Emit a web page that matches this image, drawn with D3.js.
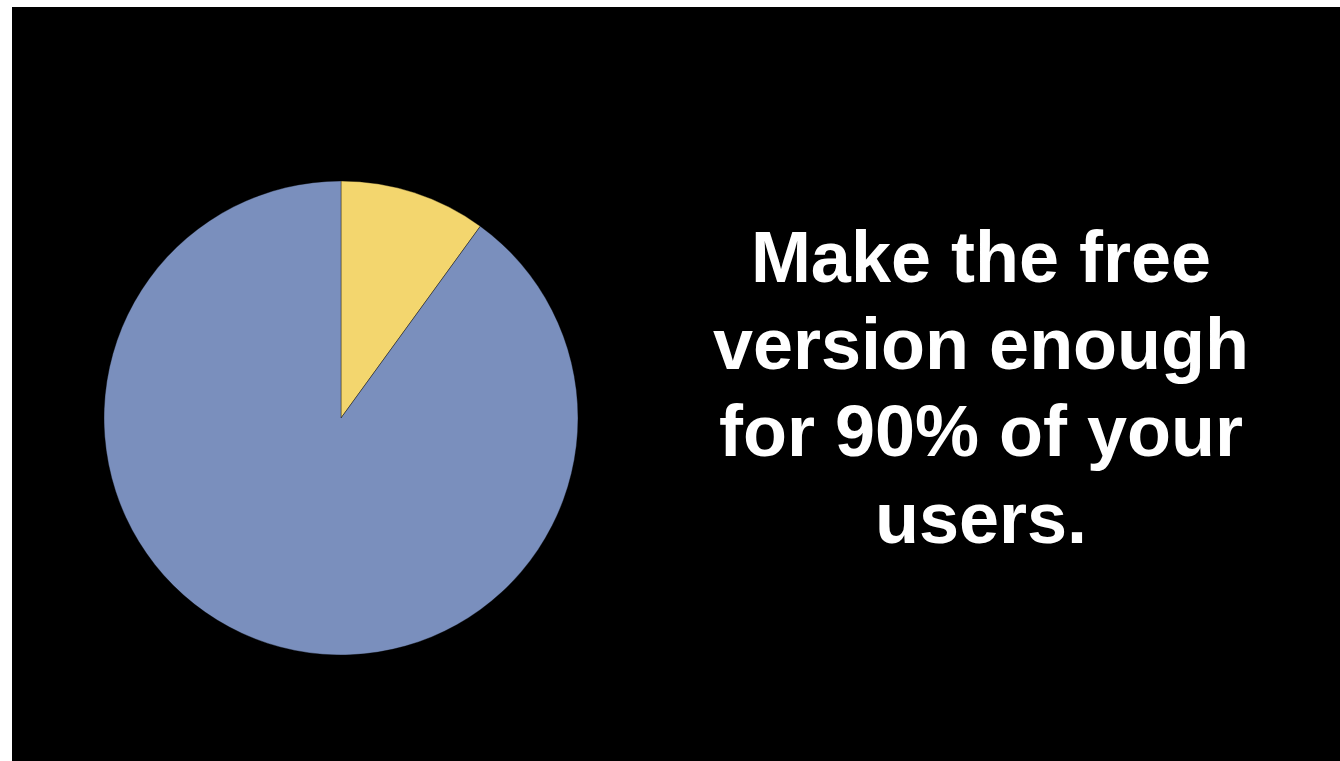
<!DOCTYPE html>
<html>
<head>
<meta charset="utf-8">
<script src="https://cdn.jsdelivr.net/npm/d3@7"></script>
<style>
  html, body { margin: 0; padding: 0; background: #fff; }
  svg { display: block; }
</style>
</head>
<body>
<svg id="slide" width="1340" height="761"></svg>
<script>
const segments = ["Paying users", "Free users"];
const shares = [10, 90];
const sliceColors = ["#f3d66e", "#7a8fbd"];
const lines = ["Make the free", "version enough", "for 90% of your", "users."];

const svg = d3.select("#slide"),
  width = +svg.attr("width"),
  height = +svg.attr("height");

// black slide area, white strip top and left
svg.append("rect")
  .attr("x", 12)
  .attr("y", 7)
  .attr("width", width - 12)
  .attr("height", height - 7)
  .attr("fill", "#000");

const cx = 341, cy = 418, r = 237;

const pie = d3.pie().sort(null).value(function (d) { return d; });
const arc = d3.arc().innerRadius(0).outerRadius(r);

const color = d3.scaleOrdinal().domain(segments).range(sliceColors);

const g = svg.append("g").attr("transform", `translate(${cx},${cy})`);

g.selectAll("path")
  .data(pie(shares))
  .join("path")
  .attr("d", arc)
  .attr("fill", function (d, i) { return color(segments[i]); })
  .attr("stroke", "rgba(0,0,0,0.35)")
  .attr("stroke-width", 1);

const text = svg.append("text")
  .attr("x", 981)
  .attr("text-anchor", "middle")
  .attr("fill", "#fff")
  .style("font-family", "'Liberation Sans', Arial, Helvetica, sans-serif")
  .style("font-weight", "bold")
  .style("font-size", "72px");

text.selectAll("tspan")
  .data(lines)
  .join("tspan")
  .attr("x", 981)
  .attr("y", function (d, i) { return 282 + i * 87; })
  .text(function (d) { return d; });
</script>
</body>
</html>
